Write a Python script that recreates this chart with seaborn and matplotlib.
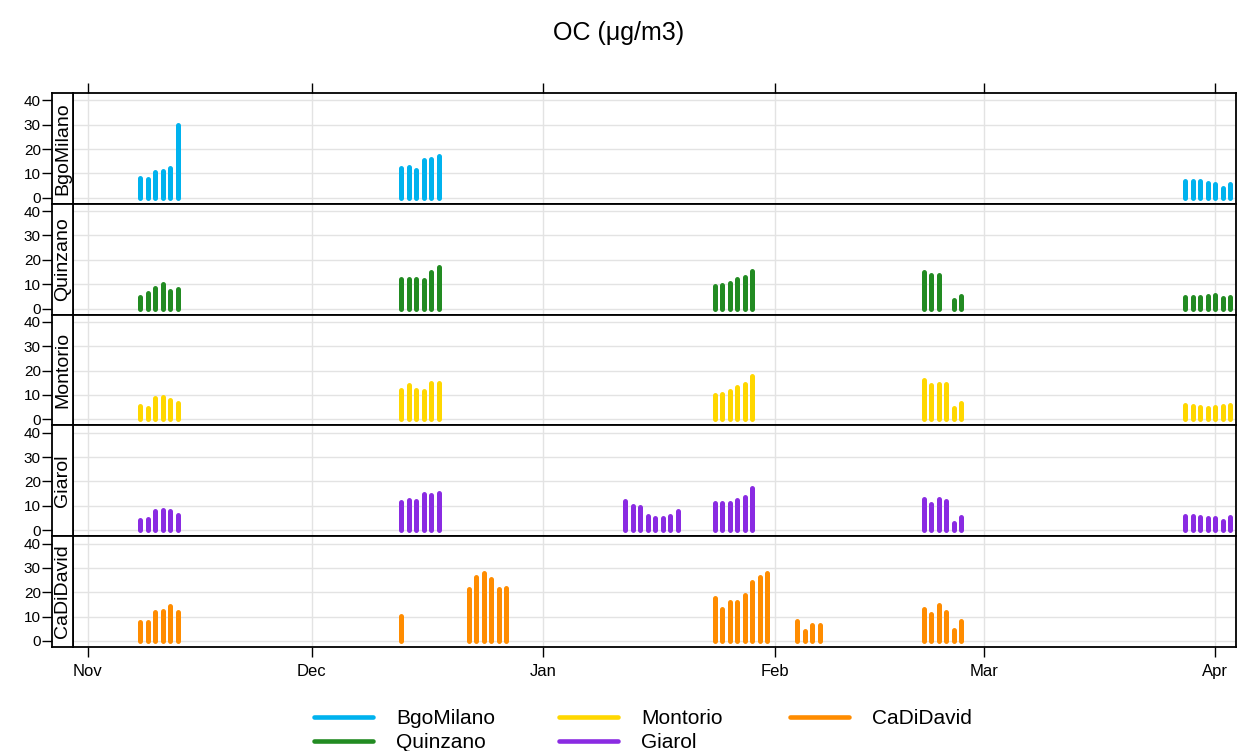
import numpy as np
import pandas as pd
import matplotlib
matplotlib.use("Agg")
import matplotlib.pyplot as plt
from matplotlib.lines import Line2D
import seaborn as sns

# ---- sites, colours and axis labels ----
sites = ["BgoMilano", "Quinzano", "Montorio", "Giarol", "CaDiDavid"]
site_colors = ["#00B2EE", "#228B22", "#FFD700", "#8A2BE2", "#FF8C00"]
month_ticks = ["2013-11-01", "2013-12-01", "2014-01-01", "2014-02-01",
               "2014-03-01", "2014-04-01"]
month_labels = ["Nov", "Dec", "Jan", "Feb", "Mar", "Apr"]
y_ticks = [0, 10, 20, 30, 40]

# ---- sampling days of each campaign ----
nov_days = ["2013-11-08", "2013-11-09", "2013-11-10", "2013-11-11",
            "2013-11-12", "2013-11-13"]
dec_days = ["2013-12-13", "2013-12-14", "2013-12-15", "2013-12-16",
            "2013-12-17", "2013-12-18"]
dec_single_day = ["2013-12-13"]
dec_late_days = ["2013-12-22", "2013-12-23", "2013-12-24", "2013-12-25",
                 "2013-12-26", "2013-12-27"]
jan_mid_days = ["2014-01-12", "2014-01-13", "2014-01-14", "2014-01-15",
                "2014-01-16", "2014-01-17", "2014-01-18", "2014-01-19"]
jan_end_days = ["2014-01-24", "2014-01-25", "2014-01-26", "2014-01-27",
                "2014-01-28", "2014-01-29"]
jan_end_long_days = ["2014-01-24", "2014-01-25", "2014-01-26", "2014-01-27",
                     "2014-01-28", "2014-01-29", "2014-01-30", "2014-01-31"]
feb_early_days = ["2014-02-04", "2014-02-05", "2014-02-06", "2014-02-07"]
feb_end_days = ["2014-02-21", "2014-02-22", "2014-02-23", "2014-02-24",
                "2014-02-25", "2014-02-26"]
feb_end_gap_days = ["2014-02-21", "2014-02-22", "2014-02-23",
                    "2014-02-25", "2014-02-26"]
mar_end_days = ["2014-03-28", "2014-03-29", "2014-03-30", "2014-03-31",
                "2014-04-01", "2014-04-02", "2014-04-03"]

# ---- daily OC concentrations (ug/m3) ----
bgomilano_nov = [8.0, 7.5, 10.5, 11.0, 12.3, 30.0]
bgomilano_dec = [12.0, 12.5, 11.5, 15.5, 15.8, 17.0]
bgomilano_mar = [7.0, 7.0, 7.0, 6.2, 5.5, 4.0, 5.5]

quinzano_nov = [4.6, 6.2, 8.3, 10.0, 7.0, 7.9]
quinzano_dec = [12.2, 12.2, 12.2, 11.7, 15.0, 17.0]
quinzano_jan = [9.3, 9.7, 10.4, 12.0, 12.9, 15.5]
quinzano_feb = [14.9, 13.6, 13.9, 3.7, 5.1]
quinzano_mar = [4.9, 4.9, 4.6, 5.3, 5.6, 4.2, 4.6]

montorio_nov = [5.5, 4.8, 8.6, 9.2, 7.8, 6.8]
montorio_dec = [11.9, 14.1, 12.1, 11.6, 15.1, 15.1]
montorio_jan = [10.0, 10.5, 11.6, 13.3, 14.4, 17.8]
montorio_feb = [16.2, 14.1, 14.7, 14.7, 4.8, 6.6]
montorio_mar = [5.8, 5.5, 5.1, 4.8, 5.2, 5.5, 5.9]

giarol_nov = [4.3, 4.6, 7.8, 8.3, 8.0, 6.3]
giarol_dec = [11.5, 12.5, 11.9, 14.7, 14.3, 15.4]
giarol_jan_mid = [12.0, 10.1, 9.4, 5.6, 5.0, 4.9, 5.6, 7.8]
giarol_jan_end = [11.1, 11.1, 11.1, 12.2, 13.6, 17.1]
giarol_feb = [12.9, 10.8, 12.9, 11.8, 2.8, 5.3]
giarol_mar = [5.6, 5.6, 5.3, 5.0, 5.0, 3.9, 5.3]

cadidavid_nov = [7.6, 7.6, 11.8, 12.2, 14.2, 11.8]
cadidavid_dec = [10.4]
cadidavid_dec_late = [21.5, 26.1, 28.0, 25.3, 21.5, 21.9]
cadidavid_jan = [17.6, 13.2, 16.0, 16.0, 18.75, 24.3, 26.4, 28.0]
cadidavid_feb_early = [8.0, 4.2, 6.7, 6.7]
cadidavid_feb = [13.2, 11.1, 14.6, 11.8, 4.4, 8.0]

series = {
    "BgoMilano": [(nov_days, bgomilano_nov), (dec_days, bgomilano_dec),
                  (mar_end_days, bgomilano_mar)],
    "Quinzano": [(nov_days, quinzano_nov), (dec_days, quinzano_dec),
                 (jan_end_days, quinzano_jan), (feb_end_gap_days, quinzano_feb),
                 (mar_end_days, quinzano_mar)],
    "Montorio": [(nov_days, montorio_nov), (dec_days, montorio_dec),
                 (jan_end_days, montorio_jan), (feb_end_days, montorio_feb),
                 (mar_end_days, montorio_mar)],
    "Giarol": [(nov_days, giarol_nov), (dec_days, giarol_dec),
               (jan_mid_days, giarol_jan_mid), (jan_end_days, giarol_jan_end),
               (feb_end_days, giarol_feb), (mar_end_days, giarol_mar)],
    "CaDiDavid": [(nov_days, cadidavid_nov), (dec_single_day, cadidavid_dec),
                  (dec_late_days, cadidavid_dec_late),
                  (jan_end_long_days, cadidavid_jan),
                  (feb_early_days, cadidavid_feb_early),
                  (feb_end_days, cadidavid_feb)],
}

rows = []
for site, blocks in series.items():
    for days, vals in blocks:
        for d, v in zip(days, vals):
            rows.append({"site": site, "date": pd.Timestamp(d), "oc": v})
df = pd.DataFrame(rows)

# ---- style ----
sns.set_theme(style="white")
plt.rcParams["font.family"] = ["Liberation Sans", "DejaVu Sans"]
plt.rcParams["text.color"] = "black"
plt.rcParams["xtick.color"] = "black"
plt.rcParams["ytick.color"] = "black"
plt.rcParams["xtick.labelcolor"] = "black"
plt.rcParams["ytick.labelcolor"] = "black"

W, H = 1237, 751
g = sns.FacetGrid(df, row="site", row_order=sites, hue="site",
                  hue_order=sites, palette=site_colors, sharex=True,
                  sharey=True, height=1.1, aspect=10, despine=False)


def draw_spikes(data, color, **kws):
    ax = plt.gca()
    ax.vlines(data["date"], 0, data["oc"], colors=color, linewidth=3.6,
              capstyle="round", zorder=3)


g.map_dataframe(draw_spikes)
g.set_titles("")
g.set_axis_labels("", "")

fig = g.figure
fig.set_size_inches(W / 100, H / 100)
fig.set_dpi(100)

x_left, x_right = 73 / W, 1236 / W
y_top, y_bot = 1 - 93 / H, 1 - 647 / H
fig.subplots_adjust(left=x_left, right=x_right, top=y_top, bottom=y_bot,
                    hspace=0)

xlim = (pd.Timestamp("2013-10-30"), pd.Timestamp("2014-04-03 19:00"))
ylim = (-2.5, 43)
tick_dates = [pd.Timestamp(t) for t in month_ticks]
strip_w = 21 / W

n = len(sites)
for i, (ax, site) in enumerate(zip(g.axes.flat, sites)):
    ax.set_xlim(*xlim)
    ax.set_ylim(*ylim)
    ax.set_xticks(tick_dates)
    ax.set_yticks(y_ticks)
    ax.set_yticklabels([])
    ax.grid(True, color="#e3e3e3", linewidth=1.0, zorder=0)
    ax.set_axisbelow(True)
    for sp in ax.spines.values():
        sp.set_color("black")
        sp.set_linewidth(1.3)
    ax.tick_params(axis="y", left=False, right=False, labelleft=False)
    if i == 0:
        ax.tick_params(axis="x", top=True, bottom=False, labeltop=False,
                       labelbottom=False, direction="out", length=7,
                       width=1, color="black")
    elif i == n - 1:
        ax.tick_params(axis="x", top=False, bottom=True, labelbottom=True,
                       direction="out", length=7, width=1, color="black",
                       labelsize=12, pad=5)
        ax.set_xticklabels(month_labels)
    else:
        ax.tick_params(axis="x", top=False, bottom=False, labelbottom=False)

    # strip on the left of each panel, carrying the y axis
    pos = ax.get_position()
    sax = fig.add_axes([pos.x0 - strip_w, pos.y0, strip_w, pos.height])
    sax.set_facecolor("white")
    sax.set_ylim(*ylim)
    sax.set_xlim(0, 1)
    sax.set_xticks([])
    sax.set_yticks(y_ticks)
    sax.set_yticklabels([str(t) for t in y_ticks], fontsize=11)
    sax.tick_params(axis="y", left=True, direction="out", length=7,
                    width=1, color="black", pad=1)
    for sp in sax.spines.values():
        sp.set_color("black")
        sp.set_linewidth(1.3)
    sax.text(0.5, 0.5, site, rotation=90, ha="center", va="center",
             fontsize=14, transform=sax.transAxes)

fig.text(0.5, 1 - 33 / H, "OC (μg/m3)", ha="center", va="center",
         fontsize=18)

# legend: three equally spaced columns
handles = [Line2D([0], [0], color=c, linewidth=3.3) for c in site_colors]
columns = [[0, 1], [2, 3], [4]]
col_x = [314, 559, 790]
for idx, x0 in zip(columns, col_x):
    fig.legend([handles[k] for k in idx], [sites[k] for k in idx],
               loc="upper left", ncol=1,
               bbox_to_anchor=(x0 / W, 1 - 709 / H), frameon=False,
               fontsize=15, handlelength=2.85, handletextpad=1.1,
               labelspacing=0.25, borderpad=0, borderaxespad=0)

fig.savefig("out.png", dpi=100)
